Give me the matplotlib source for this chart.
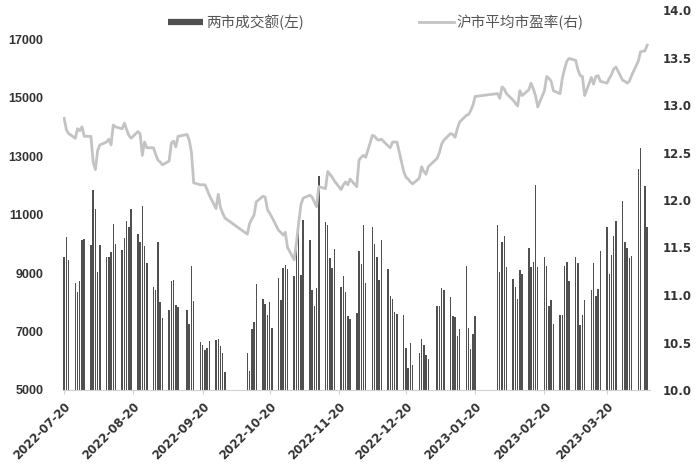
import pandas as pd
import matplotlib.pyplot as plt
from matplotlib.lines import Line2D

# trading days 2022-07-20 .. 2023-04-07 (weekdays minus exchange holidays)
holidays = ["2022-09-12", "2022-10-03", "2022-10-04", "2022-10-05", "2022-10-06",
            "2022-10-07", "2023-01-02", "2023-01-23", "2023-01-24", "2023-01-25",
            "2023-01-26", "2023-01-27", "2023-04-05"]
dates = pd.bdate_range("2022-07-20", "2023-04-07")
dates = dates[~dates.isin(pd.to_datetime(holidays))]

# 两市成交额 (亿元), one row per week
turnover = [
    9550, 10240, 9460,
    8660, 8360, 8730, 10120, 10170,
    9960, 11840, 11200, 9020, 9960,
    9550, 9550, 9710, 10690, 10010,
    9800, 10210, 10790, 10580, 11200,
    10330, 10080, 11310, 9920, 9350,
    8520, 8410, 10080, 7995, 7470,
    7720, 8730, 8770, 7900, 7840,
    7740, 7260, 9230, 8040,
    6650, 6550, 6370, 6440, 6690,
    6720, 6740, 6510, 6280, 5620,
    6280, 5660, 7100, 7330, 8640,
    8110, 7950, 7580, 7995, 7130,
    8840, 8080, 9180, 9280, 9140,
    8890, 9870, 10530, 8930, 10830,
    10120, 8410, 7860, 8480, 12320,
    10740, 10650, 9500, 9180, 9830,
    8520, 8890, 8360, 7540, 7420,
    7630, 9760, 9320, 10630, 8660,
    10580, 10010, 9550, 8770, 10120,
    9140, 8200, 8130, 7680, 7610,
    7580, 6440, 5750, 6600, 5870,
    6280, 6740, 6530, 6190, 6070,
    7880, 7880, 8480, 8410,
    8180, 7540, 7490, 6850, 7080,
    9250, 7130, 6400, 6920, 7540,
    10650, 9050, 10080, 10280, 9210,
    8800, 8520, 8110, 9090, 8980,
    9870, 9210, 9390, 12000, 9210,
    9550, 9230, 7860, 8090, 7260,
    7580, 7580, 9230, 9390, 8730,
    9550, 9340, 7220, 7580, 8090,
    8410, 9340, 8200, 8460, 9760,
    10580, 8980, 9620, 10280, 10790,
    11470, 10080, 9870, 9500, 9570,
    12550, 13280, 11970, 10580,
]

# 沪市平均市盈率
pe = [
    12.86, 12.74, 12.70,
    12.65, 12.75, 12.73, 12.77, 12.67,
    12.67, 12.40, 12.32, 12.52, 12.58,
    12.61, 12.64, 12.58, 12.79, 12.77,
    12.75, 12.81, 12.74, 12.68, 12.65,
    12.72, 12.70, 12.47, 12.61, 12.55,
    12.55, 12.48, 12.42, 12.40, 12.37,
    12.41, 12.60, 12.62, 12.56, 12.67,
    12.69, 12.63, 12.50, 12.18,
    12.16, 12.16, 12.16, 12.11, 12.05,
    11.91, 12.06, 11.92, 11.86, 11.81,
    11.64, 11.75, 11.80, 11.84, 11.98,
    12.04, 12.03, 11.90, 11.86, 11.82,
    11.68, 11.66, 11.63, 11.66, 11.50,
    11.37, 11.55, 11.76, 11.95, 12.02,
    12.05, 12.03, 11.98, 11.93, 12.14,
    12.12, 12.30, 12.27, 12.24, 12.20,
    12.11, 12.16, 12.19, 12.16, 12.22,
    12.14, 12.42, 12.45, 12.47, 12.45,
    12.68, 12.67, 12.64, 12.63, 12.64,
    12.57, 12.55, 12.61, 12.61, 12.61,
    12.30, 12.24, 12.22, 12.19, 12.17,
    12.23, 12.35, 12.30, 12.27, 12.35,
    12.44, 12.50, 12.59, 12.63,
    12.70, 12.69, 12.66, 12.75, 12.82,
    12.89, 12.90, 12.94, 13.00, 13.09,
    13.12, 13.07, 13.19, 13.17, 13.12,
    13.05, 13.02, 12.99, 13.15, 13.10,
    13.16, 13.23, 13.17, 13.10, 12.98,
    13.15, 13.30, 13.28, 13.25, 13.15,
    13.12, 13.28, 13.38, 13.46, 13.49,
    13.47, 13.37, 13.31, 13.30, 13.10,
    13.29, 13.22, 13.30, 13.31, 13.25,
    13.23, 13.28, 13.32, 13.38, 13.40,
    13.26, 13.25, 13.23, 13.25, 13.31,
    13.46, 13.56, 13.57, 13.63,
]

tick_labels = ["2022-07-20", "2022-08-20", "2022-09-20", "2022-10-20", "2022-11-20",
               "2022-12-20", "2023-01-20", "2023-02-20", "2023-03-20"]
left_ticks = [5000, 7000, 9000, 11000, 13000, 15000, 17000]
right_ticks = [10.0, 10.5, 11.0, 11.5, 12.0, 12.5, 13.0, 13.5, 14.0]

bar_color = "#505050"
line_color = "#c3c3c3"
text_color = "#333333"

fig = plt.figure(figsize=(6.97, 4.71), dpi=100)
ax = fig.add_axes([63 / 697, 81 / 471, 587 / 697, 380 / 471])
ax2 = ax.twinx()

ax.bar(dates, turnover, width=0.65, color=bar_color, zorder=2)
ax2.plot(dates, pe, color=line_color, linewidth=2.0, zorder=3)

ax.set_ylim(5000, 18000)
ax2.set_ylim(10, 14)
ax.set_xlim(pd.Timestamp("2022-07-19 12:00"), pd.Timestamp("2023-04-08 06:00"))

ax.set_yticks(left_ticks)
ax.set_yticklabels([str(v) for v in left_ticks], fontsize=9, fontweight="bold",
                   family="Liberation Sans", color=text_color)
ax2.set_yticks(right_ticks)
ax2.set_yticklabels([f"{v:.1f}" for v in right_ticks], fontsize=8.5, fontweight="bold",
                    family="DejaVu Sans", color=text_color)
ax.tick_params(axis="y", length=0, pad=14)
ax2.tick_params(axis="y", length=0, pad=9)

ax.set_xticks(pd.to_datetime(tick_labels))
ax.set_xticklabels(tick_labels, rotation=45, ha="right", rotation_mode="anchor",
                   fontsize=8.5, fontweight="bold", family="DejaVu Sans", color=text_color)
ax.tick_params(axis="x", length=3, color="#d0d0d0", pad=4)

for a in (ax, ax2):
    for side in ("top", "left", "right"):
        a.spines[side].set_visible(False)
ax.spines["bottom"].set_color("#d0d0d0")
ax2.spines["bottom"].set_visible(False)

handles = [Line2D([], [], color=bar_color, linewidth=4.5, solid_capstyle="butt"),
           Line2D([], [], color=line_color, linewidth=2.0)]
fig.legend(handles, ["两市成交额(左)", "沪市平均市盈率(右)"], loc="center",
           bbox_to_anchor=(376 / 697, 1 - 22 / 471), ncol=2, frameon=False,
           prop={"family": ["Noto Sans CJK SC", "DejaVu Sans"], "size": 10.5},
           labelcolor="#555555", handlelength=2.4, handletextpad=0.2,
           columnspacing=7.9)

fig.savefig("out.png", dpi=100)
